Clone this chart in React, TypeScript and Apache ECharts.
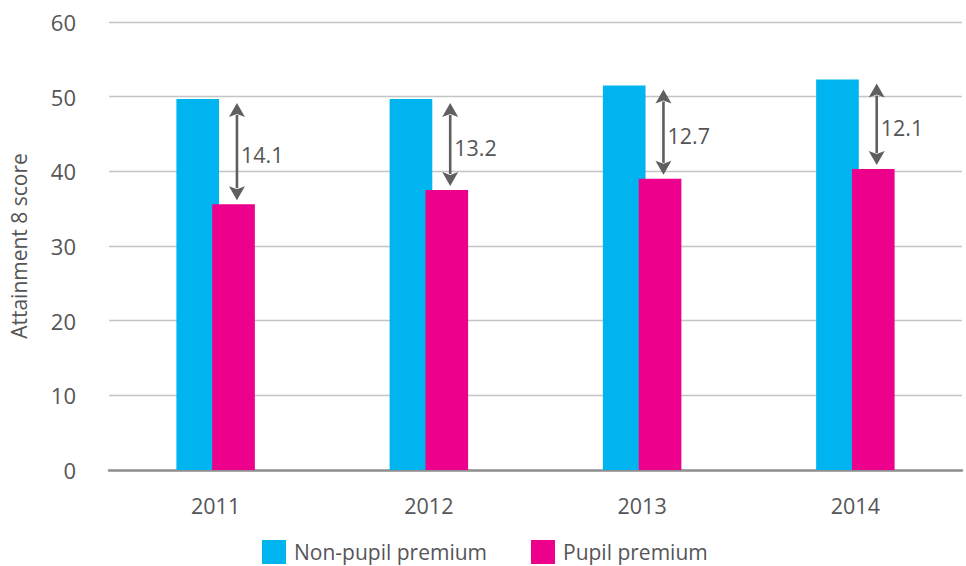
import React, { useEffect, useRef } from "react";
import * as echarts from "echarts";

const years = ["2011", "2012", "2013", "2014"];
const nonPupilPremium = [49.7, 49.7, 51.5, 52.3];
const pupilPremium = [35.6, 37.5, 39.0, 40.3];
const gapLabels = ["14.1", "13.2", "12.7", "12.1"];
const yTicks = { min: 0, max: 60, interval: 10 };

const FONT = "'Open Sans', 'Noto Sans', sans-serif";
const TEXT = "#555557";

export default function App() {
  const ref = useRef<HTMLDivElement>(null);

  useEffect(() => {
    document.body.style.margin = "0";
    if (!ref.current) return;
    const chart = echarts.init(ref.current, null, { renderer: "svg" });

    const arrowData = years.map((_, i) => [i, nonPupilPremium[i], pupilPremium[i], gapLabels[i]]);

    chart.setOption({
      animation: false,
      textStyle: { fontFamily: FONT },
      grid: { left: 104, right: 4, top: 22, height: 448 },
      legend: {
        left: 262,
        top: 540,
        padding: 0,
        itemWidth: 24,
        itemHeight: 24,
        itemGap: 44,
        icon: "rect",
        textStyle: { fontSize: 21, color: TEXT, fontFamily: FONT, padding: [0, 0, 0, 3] },
        data: ["Non-pupil premium", "Pupil premium"],
      },
      xAxis: {
        type: "category",
        data: years,
        axisTick: { show: false },
        axisLine: { lineStyle: { color: "#8f8f8f", width: 2.5 } },
        axisLabel: { fontSize: 21.5, color: TEXT, margin: 24, fontFamily: FONT },
      },
      yAxis: {
        type: "value",
        min: yTicks.min,
        max: yTicks.max,
        interval: yTicks.interval,
        name: "Attainment 8 score",
        nameLocation: "middle",
        nameGap: 80,
        nameTextStyle: { fontSize: 21, color: TEXT, fontFamily: FONT },
        axisLabel: { fontSize: 22, color: TEXT, margin: 33, fontFamily: FONT },
        splitLine: { lineStyle: { color: "#c4c4c4", width: 1.3 } },
        axisLine: { show: false },
        axisTick: { show: false },
      },
      series: [
        {
          name: "Non-pupil premium",
          type: "bar",
          data: nonPupilPremium,
          barWidth: "20%",
          barGap: "-16%",
          itemStyle: { color: "#00b5ef" },
        },
        {
          name: "Pupil premium",
          type: "bar",
          data: pupilPremium,
          barWidth: "20%",
          itemStyle: { color: "#ec008c" },
        },
        {
          name: "gap",
          type: "custom",
          data: arrowData,
          encode: { x: 0, y: [1, 2] },
          z: 10,
          renderItem: (params: any, api: any) => {
            const i = api.value(0);
            const top = api.coord([i, api.value(1)]);
            const bot = api.coord([i, api.value(2)]);
            const band = api.size([1, 0])[0];
            const x = top[0] + band * 0.1;
            const y1 = top[1] + 4;
            const y2 = bot[1] - 4;
            const col = "#5f5f5f";
            const hw = 8;
            const hh = 14;
            const label = gapLabels[params.dataIndex];
            return {
              type: "group",
              children: [
                {
                  type: "line",
                  shape: { x1: x, y1: y1 + hh - 2, x2: x, y2: y2 - hh + 2 },
                  style: { stroke: col, lineWidth: 2.6 },
                },
                {
                  type: "polygon",
                  shape: { points: [[x, y1], [x - hw, y1 + hh], [x, y1 + hh - 3], [x + hw, y1 + hh]] },
                  style: { fill: col },
                },
                {
                  type: "polygon",
                  shape: { points: [[x, y2], [x - hw, y2 - hh], [x, y2 - hh + 3], [x + hw, y2 - hh]] },
                  style: { fill: col },
                },
                {
                  type: "text",
                  style: {
                    text: label,
                    x: x + 4,
                    y: (y1 + y2) / 2 + 3,
                    fill: TEXT,
                    fontSize: 21.5,
                    fontFamily: FONT,
                    align: "left",
                    verticalAlign: "middle",
                  },
                },
              ],
            };
          },
        },
      ],
    });

    return () => chart.dispose();
  }, []);

  return <div ref={ref} style={{ width: 966, height: 566 }} />;
}
